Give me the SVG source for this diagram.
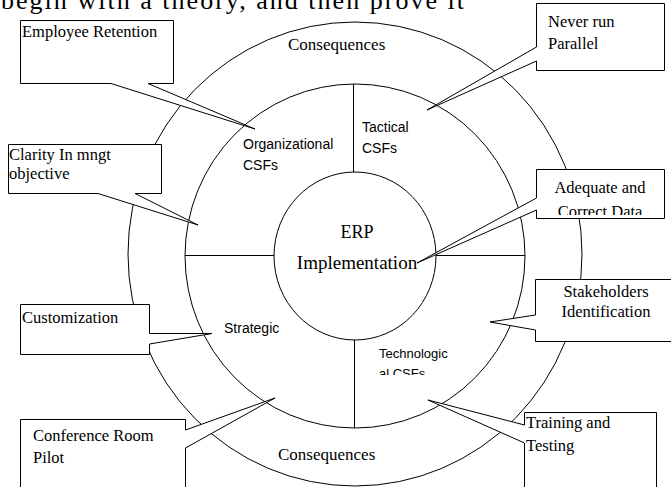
<svg xmlns="http://www.w3.org/2000/svg" width="671" height="487" viewBox="0 0 671 487">
<style>
.ln{fill:none;stroke:#000;stroke-width:1}
.box{fill:#fff;stroke:#000;stroke-width:1}
.tr{font-family:"Liberation Serif","Times New Roman",serif;font-size:16.5px;fill:#000}
.ar{font-family:"Liberation Sans",Arial,sans-serif;font-size:14px;fill:#000}
.mid{text-anchor:middle}
</style>
<defs>
<clipPath id="clipAdeq"><rect x="536" y="169" width="128" height="46"/></clipPath>
<clipPath id="clipTech"><rect x="370" y="340" width="100" height="35"/></clipPath>
</defs>
<rect width="671" height="487" fill="#fff"/>
<text x="1" y="9" font-family="Liberation Serif, serif" font-size="26" textLength="463">begin with a theory, and then prove it</text>
<g id="rings" class="ln">
<ellipse cx="355" cy="254" rx="227" ry="232"/>
<ellipse cx="355" cy="256" rx="170" ry="172"/>
<ellipse cx="355" cy="256" rx="81" ry="84"/>
</g>
<g id="connectors" class="ln">
<line x1="353.5" y1="84" x2="353.5" y2="172"/>
<line x1="354.5" y1="340" x2="354.5" y2="428"/>
<line x1="185" y1="255.5" x2="274" y2="255.5"/>
<line x1="436" y1="255.5" x2="525" y2="255.5"/>
</g>
<g id="ring-labels">
<text class="tr" x="288" y="50" style="font-size:17px">Consequences</text>
<text class="tr" x="278" y="460" style="font-size:17px">Consequences</text>
<text class="ar" x="243" y="149">Organizational</text>
<text class="ar" x="243" y="170">CSFs</text>
<text class="ar" x="362" y="132">Tactical</text>
<text class="ar" x="362" y="153">CSFs</text>
<text class="ar" x="224" y="333">Strategic</text>
<g clip-path="url(#clipTech)">
<text class="ar" x="379" y="358" style="font-size:13px">Technologic</text>
<text class="ar" x="379" y="378" style="font-size:13px">al CSFs</text>
</g>
<text class="tr mid" x="357" y="238" style="font-size:18px">ERP</text>
<text class="tr mid" x="357" y="269" style="font-size:19px">Implementation</text>
</g>
<g id="employee-retention">
<path class="box" d="M20.5,20.5 H173.5 V83.5 H148 L255,129 L111,83.5 H20.5 Z"/>
<text class="tr" x="22" y="37">Employee Retention</text>
</g>
<g id="never-run-parallel">
<path class="box" d="M536.5,3.5 H664.5 V70.5 H536.5 V61 L427,110 L536.5,47 Z"/>
<text class="tr" x="548" y="27">Never run</text>
<text class="tr" x="548" y="49">Parallel</text>
</g>
<g id="clarity">
<path class="box" d="M8.5,144.5 H161.5 V193.5 H135 L198,225 L98,193.5 H8.5 Z"/>
<text class="tr" x="9" y="160">Clarity In mngt</text>
<text class="tr" x="9" y="179">objective</text>
</g>
<g id="adequate-data">
<path class="box" d="M536.5,169.5 H664.5 V218.5 H536.5 V210 L417,263 L536.5,198 Z"/>
<g clip-path="url(#clipAdeq)">
<text class="tr mid" x="600" y="193">Adequate and</text>
<text class="tr mid" x="600" y="217">Correct Data</text>
</g>
</g>
<g id="stakeholders">
<path class="box" d="M535.5,279.5 H680 V341.5 H535.5 V330 L490,322 L535.5,315 Z"/>
<text class="tr mid" x="606" y="297">Stakeholders</text>
<text class="tr mid" x="606" y="317">Identification</text>
</g>
<g id="customization">
<path class="box" d="M20.5,304.5 H149.5 V333.5 H212 L149.5,344 V354.5 H20.5 Z"/>
<text class="tr" x="22" y="323">Customization</text>
</g>
<g id="conference-room-pilot">
<path class="box" d="M20.5,419.5 H185.5 V430 L275,398 L185.5,448 V495 H20.5 Z"/>
<text class="tr" x="33" y="441">Conference Room</text>
<text class="tr" x="33" y="463">Pilot</text>
</g>
<g id="training-testing">
<path class="box" d="M524.5,412.5 H656.5 V495 H524.5 V443 L428,400 L524.5,425 Z"/>
<text class="tr" x="526" y="428">Training and</text>
<text class="tr" x="526" y="451">Testing</text>
</g>
</svg>
